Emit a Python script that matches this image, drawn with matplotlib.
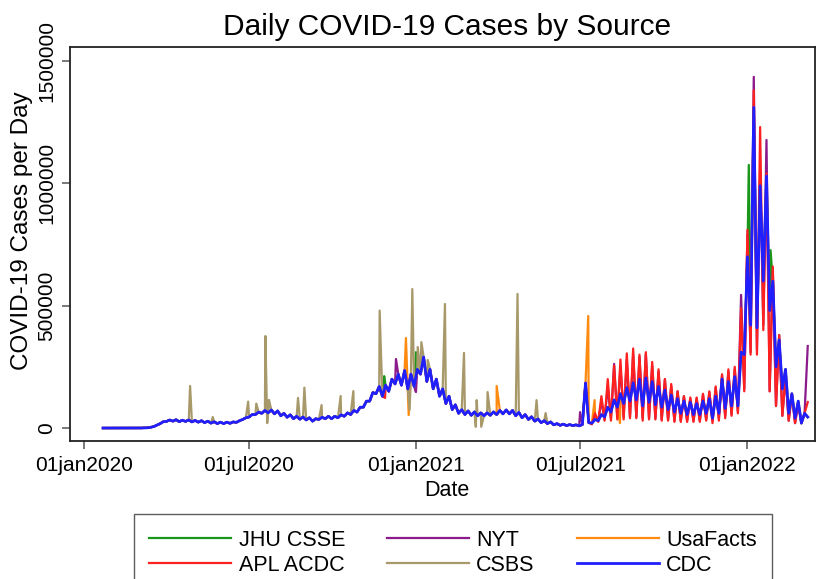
import pandas as pd
import matplotlib
matplotlib.use("Agg")
import matplotlib.pyplot as plt

plt.rcParams["font.family"] = ["Liberation Sans", "DejaVu Sans"]

# ---------------- data (cases per day) ----------------
# one low (start of week) and one high (half a week later) per week
week_start = pd.date_range("2020-01-22", periods=112, freq="7D")

cdc_lo = [0, 0, 0, 0, 0, 0, 200, 1000, 6000, 18000,
          27000, 28000, 26000, 27000, 25000, 24000, 22000, 20000, 18000, 18000,
          19000, 23000, 35000, 45000, 55000, 60000, 62000, 58000, 50000, 44000,
          38000, 36000, 33000, 28000, 35000, 38000, 38000, 42000, 48000, 55000,
          65000, 85000, 110000, 140000, 130000, 150000, 180000, 175000, 160000, 170000,
          220000, 190000, 160000, 130000, 100000, 75000, 60000, 55000, 52000, 50000,
          50000, 52000, 55000, 58000, 58000, 50000, 42000, 35000, 28000, 22000,
          18000, 13000, 11000, 10000, 10000, 9000, 184000, 20000, 30000, 45000,
          65000, 85000, 100000, 110000, 115000, 90000, 105000, 95000, 85000, 75000,
          65000, 60000, 55000, 55000, 55000, 60000, 40000, 60000, 80000, 90000,
          90000, 300000, 420000, 410000, 600000, 480000, 250000, 160000, 60000, 40000,
          20000, 45000]
cdc_hi = [0, 0, 0, 0, 0, 100, 500, 3000, 12000, 26000,
          33000, 34000, 32000, 33000, 31000, 30000, 28000, 26000, 24000, 24000,
          25000, 30000, 42000, 55000, 65000, 72000, 74000, 70000, 60000, 54000,
          48000, 45000, 42000, 38000, 44000, 48000, 48000, 54000, 62000, 72000,
          85000, 110000, 145000, 170000, 175000, 200000, 220000, 235000, 220000, 240000,
          290000, 240000, 200000, 160000, 130000, 95000, 75000, 70000, 66000, 62000,
          62000, 66000, 72000, 74000, 72000, 64000, 55000, 46000, 37000, 30000,
          25000, 18000, 16000, 14000, 13000, 14000, 22000, 35000, 55000, 85000,
          115000, 140000, 165000, 185000, 200000, 205000, 190000, 170000, 155000, 135000,
          120000, 110000, 105000, 100000, 110000, 120000, 130000, 200000, 190000, 210000,
          310000, 700000, 1310000, 990000, 1030000, 600000, 360000, 240000, 140000, 110000,
          60000]

# from week 77 (mid July 2021) the sources drift apart
late_week = 77
apl_lo_late = [15000, 25000, 30000, 30000, 35000, 35000, 40000, 40000, 30000, 35000,
               35000, 30000, 30000, 25000, 25000, 25000, 25000, 25000, 30000, 20000,
               30000, 40000, 50000, 60000, 150000, 300000, 300000, 400000, 150000, 90000,
               50000, 30000, 20000, 20000, 106000]
apl_hi_late = [60000, 130000, 200000, 255000, 280000, 305000, 325000, 300000, 310000, 270000,
               240000, 200000, 180000, 150000, 130000, 125000, 125000, 140000, 150000, 170000,
               220000, 240000, 250000, 490000, 810000, 1380000, 1230000, 1040000, 660000, 380000,
               210000, 140000, 100000, 60000]
nyt_lo_late = [18000, 28000, 35000, 40000, 45000, 45000, 45000, 45000, 40000, 40000,
               40000, 35000, 35000, 30000, 30000, 30000, 30000, 30000, 35000, 30000,
               40000, 50000, 55000, 65000, 160000, 310000, 320000, 420000, 150000, 90000,
               50000, 30000, 20000, 20000, 335000]
nyt_hi_late = [50000, 110000, 170000, 262000, 250000, 280000, 300000, 290000, 302000, 255000,
               230000, 200000, 170000, 150000, 130000, 120000, 120000, 135000, 145000, 165000,
               215000, 230000, 240000, 544000, 790000, 1435000, 1050000, 1177000, 640000, 380000,
               210000, 140000, 100000, 60000]

# CSBS stops reporting at the end of May 2021
csbs_last_week = 71

# single-day reporting dumps / dips
csbs_extra_dates = ["2020-04-27", "2020-05-22", "2020-06-30", "2020-07-09", "2020-07-19",
                    "2020-07-21", "2020-07-23", "2020-08-24", "2020-08-31", "2020-09-19",
                    "2020-10-10", "2020-10-24", "2020-11-22", "2020-12-25", "2020-12-28",
                    "2021-01-03", "2021-01-07", "2021-01-14", "2021-02-02", "2021-02-23",
                    "2021-03-08", "2021-03-09", "2021-03-14", "2021-03-21", "2021-04-23",
                    "2021-05-14", "2021-05-24"]
csbs_extra_vals = [172000, 45000, 108000, 100000, 376000,
                   20000, 115000, 123000, 165000, 94000,
                   131000, 151000, 480000, 74000, 568000,
                   331000, 351000, 278000, 507000, 307000,
                   5000, 114000, 5000, 147000, 548000,
                   114000, 61000]
usaf_extra_dates = ["2020-12-21", "2020-12-24", "2021-03-31", "2021-07-10", "2021-07-17",
                    "2021-08-14"]
usaf_extra_vals = [368000, 53000, 172000, 458000, 114000, 20000]
nyt_extra_dates = ["2020-12-10", "2021-01-01", "2021-03-08", "2021-07-01"]
nyt_extra_vals = [282000, 147000, 61000, 65000]
jhu_extra_dates = ["2020-11-27", "2021-01-01", "2022-01-03", "2022-01-27"]
jhu_extra_vals = [212000, 310000, 1075000, 727000]
apl_extra_dates = ["2020-11-28"]
apl_extra_vals = [123000]

tick_dates = ["2020-01-01", "2020-07-01", "2021-01-01", "2021-07-01", "2022-01-01"]
tick_labels = ["01jan2020", "01jul2020", "01jan2021", "01jul2021", "01jan2022"]
y_ticks = [0, 500000, 1000000, 1500000]


def zigzag(lo, hi, extra_dates=(), extra_vals=()):
    """weekly low/high pairs plus single-day points, sorted by date"""
    pts = []
    for k, v in enumerate(lo):
        pts.append((week_start[k], v))
        if k < len(hi):
            pts.append((week_start[k] + pd.Timedelta(hours=84), hi[k]))
    for d, v in zip(extra_dates, extra_vals):
        pts.append((pd.Timestamp(d), v))
    pts.sort(key=lambda p: p[0])
    return [p[0] for p in pts], [p[1] for p in pts]


series = {
    "JHU CSSE": zigzag(cdc_lo, cdc_hi, jhu_extra_dates, jhu_extra_vals),
    "NYT": zigzag(cdc_lo[:late_week] + nyt_lo_late, cdc_hi[:late_week] + nyt_hi_late,
                  nyt_extra_dates, nyt_extra_vals),
    "UsaFacts": zigzag(cdc_lo, cdc_hi, usaf_extra_dates, usaf_extra_vals),
    "APL ACDC": zigzag(cdc_lo[:late_week] + apl_lo_late, cdc_hi[:late_week] + apl_hi_late,
                       apl_extra_dates, apl_extra_vals),
    "CSBS": zigzag(cdc_lo[:csbs_last_week], cdc_hi[:csbs_last_week],
                   csbs_extra_dates, csbs_extra_vals),
    "CDC": zigzag(cdc_lo, cdc_hi),
}
colors = {
    "JHU CSSE": "#1a961a",
    "NYT": "#8b1a8b",
    "UsaFacts": "#ff8a10",
    "APL ACDC": "#ff2020",
    "CSBS": "#a8996a",
    "CDC": "#1f1fff",
}

# ---------------- plotting ----------------
W, H = 816, 579
fig = plt.figure(figsize=(W / 100, H / 100), dpi=100)
ax = fig.add_axes([70 / W, 1 - 441 / H, (815 - 70) / W, (441 - 47) / H])

lines = {}
for name, (t, v) in series.items():
    lw = 2.0 if name == "CDC" else 1.6
    lines[name], = ax.plot(t, v, color=colors[name], lw=lw, label=name)

ax.set_xlim(pd.Timestamp("2019-12-16 14:00"), pd.Timestamp("2022-03-17"))
ax.set_ylim(-53000, 1557000)

ax.set_xticks([pd.Timestamp(d) for d in tick_dates])
ax.set_xticklabels(tick_labels)
ax.set_yticks(y_ticks)
ax.set_yticklabels([str(y) for y in y_ticks])

for s in ax.spines.values():
    s.set_color("#222222")
    s.set_linewidth(1.3)

ax.tick_params(axis="both", direction="out", length=6, width=1.1, color="#555555",
               labelsize=15)
ax.tick_params(axis="x", pad=5)
ax.tick_params(axis="y", pad=4, labelrotation=90)
for lab in ax.get_yticklabels():
    lab.set_va("center")

fig.text(447 / W, 1 - 27 / H, "Daily COVID-19 Cases by Source", ha="center", va="center",
         fontsize=21.5)
fig.text(22 / W, 1 - 231 / H, "COVID-19 Cases per Day", rotation=90, ha="center",
         va="center", fontsize=17.5)
fig.text(447 / W, 1 - 490 / H, "Date", ha="center", va="center", fontsize=15.5)

# legend is filled row by row like Stata: JHU, NYT, UsaFacts / APL, CSBS, CDC
order = ["JHU CSSE", "APL ACDC", "NYT", "CSBS", "UsaFacts", "CDC"]
leg = fig.legend([lines[n] for n in order], order, ncol=3, loc="upper center",
                 bbox_to_anchor=(453 / W, 1 - 514 / H), borderaxespad=0, frameon=True,
                 fancybox=False, edgecolor="#333333", fontsize=15.5, handlelength=3.8,
                 handletextpad=0.35, columnspacing=1.95, labelspacing=0.2, borderpad=0.72)
leg.get_frame().set_linewidth(1.0)

fig.savefig("out.png", dpi=100)
